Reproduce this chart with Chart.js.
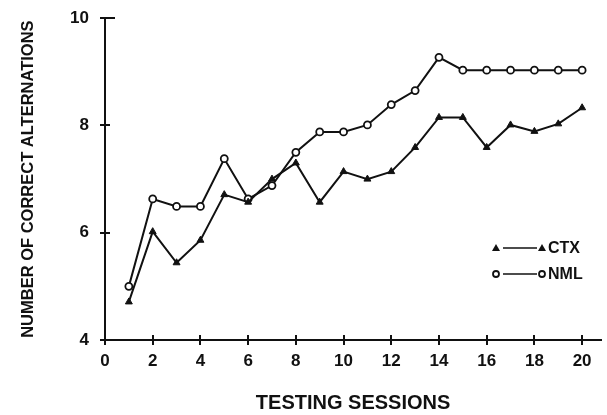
<!DOCTYPE html>
<html>
<head>
<meta charset="utf-8">
<script src="https://cdn.jsdelivr.net/npm/chart.js@4/dist/chart.umd.min.js"></script>
<style>
  html, body { margin: 0; padding: 0; background: #fff; }
  #wrap { width: 607px; height: 415px; }
</style>
</head>
<body>
<div id="wrap"><canvas id="chart" width="607" height="415"></canvas></div>
<script>
const sessions = [1, 2, 3, 4, 5, 6, 7, 8, 9, 10, 11, 12, 13, 14, 15, 16, 17, 18, 19, 20];
const ctxValues = [4.71, 6.02, 5.44, 5.86, 6.71, 6.57, 7.0, 7.3, 6.57, 7.14, 7.0, 7.14, 7.59, 8.15, 8.15, 7.59, 8.01, 7.89, 8.03, 8.33];
const nmlValues = [5.0, 6.63, 6.49, 6.49, 7.38, 6.63, 6.88, 7.5, 7.88, 7.88, 8.01, 8.39, 8.65, 9.27, 9.03, 9.03, 9.03, 9.03, 9.03, 9.03];
const xTicks = [0, 2, 4, 6, 8, 10, 12, 14, 16, 18, 20];
const yTicks = [4, 6, 8, 10];

const ink = '#111';

// tick marks that cross the axes, plus the little legend box
const axisTicks = {
  id: 'axisTicks',
  afterDraw(chart) {
    const c = chart.ctx;
    const x = chart.scales.x, y = chart.scales.y;
    const x0 = x.getPixelForValue(0), y0 = y.getPixelForValue(4);
    c.save();
    c.strokeStyle = ink;
    c.lineWidth = 2;
    xTicks.forEach(v => {
      const px = Math.round(x.getPixelForValue(v));
      c.beginPath(); c.moveTo(px, y0 - 5); c.lineTo(px, y0 + 5); c.stroke();
    });
    yTicks.forEach(v => {
      const py = Math.round(y.getPixelForValue(v));
      c.beginPath(); c.moveTo(x0 - 5, py); c.lineTo(x0 + (v === 10 ? 10 : 5), py); c.stroke();
    });

    // legend
    const items = [
      { label: 'CTX', style: 'triangle', y: 248 },
      { label: 'NML', style: 'circle', y: 274 }
    ];
    c.font = 'bold 16px "Liberation Sans", Arial, sans-serif';
    c.textBaseline = 'middle';
    items.forEach(it => {
      c.lineWidth = 1.5;
      c.beginPath(); c.moveTo(503, it.y); c.lineTo(537, it.y); c.stroke();
      [496, 542].forEach(mx => {
        c.beginPath();
        if (it.style === 'triangle') {
          c.moveTo(mx, it.y - 4); c.lineTo(mx + 4, it.y + 3); c.lineTo(mx - 4, it.y + 3); c.closePath();
          c.fillStyle = ink; c.fill();
        } else {
          c.arc(mx, it.y, 3, 0, Math.PI * 2);
          c.fillStyle = '#fff'; c.fill(); c.lineWidth = 1.8; c.stroke();
        }
      });
      c.fillStyle = ink;
      c.fillText(it.label, 548, it.y + 1);
    });
    c.restore();
  }
};

new Chart(document.getElementById('chart'), {
  type: 'line',
  data: {
    labels: sessions,
    datasets: [
      {
        label: 'CTX',
        data: sessions.map((s, i) => ({ x: s, y: ctxValues[i] })),
        borderColor: ink,
        borderWidth: 2,
        pointStyle: 'triangle',
        pointRadius: 4,
        pointBackgroundColor: ink,
        pointBorderColor: ink,
        pointBorderWidth: 1,
        tension: 0
      },
      {
        label: 'NML',
        data: sessions.map((s, i) => ({ x: s, y: nmlValues[i] })),
        borderColor: ink,
        borderWidth: 2,
        pointStyle: 'circle',
        pointRadius: 3.5,
        pointBackgroundColor: '#fff',
        pointBorderColor: ink,
        pointBorderWidth: 1.8,
        tension: 0
      }
    ]
  },
  options: {
    responsive: false,
    animation: false,
    layout: { padding: { top: 17, right: 2, left: 0, bottom: 0 } },
    plugins: {
      legend: { display: false },
      tooltip: { enabled: false }
    },
    scales: {
      x: {
        type: 'linear',
        min: 0,
        max: 20.8,
        afterBuildTicks: scale => { scale.ticks = xTicks.map(v => ({ value: v })); },
        afterFit: scale => { scale.height = 75; },
        grid: { display: false },
        border: { display: true, color: ink, width: 2 },
        ticks: {
          color: ink,
          padding: 3,
          maxRotation: 0,
          font: { family: '"Liberation Sans", Arial, sans-serif', size: 17, weight: 'bold' }
        },
        title: {
          display: true,
          text: 'TESTING SESSIONS',
          color: ink,
          padding: { top: 14, bottom: 0 },
          font: { family: '"Liberation Sans Narrow", "Liberation Sans", sans-serif', size: 20, weight: 'bold' }
        }
      },
      y: {
        min: 4,
        max: 10,
        afterBuildTicks: scale => { scale.ticks = yTicks.map(v => ({ value: v })); },
        afterFit: scale => { scale.width = 105; },
        grid: { display: false },
        border: { display: true, color: ink, width: 2 },
        ticks: {
          color: ink,
          padding: 8,
          font: { family: '"Liberation Sans", Arial, sans-serif', size: 17, weight: 'bold' }
        },
        title: {
          display: true,
          text: 'NUMBER OF CORRECT ALTERNATIONS',
          color: ink,
          padding: { top: 19, bottom: 0 },
          font: { family: '"Liberation Sans", Arial, sans-serif', size: 16.5, weight: 'bold' }
        }
      }
    }
  },
  plugins: [axisTicks]
});
</script>
</body>
</html>
